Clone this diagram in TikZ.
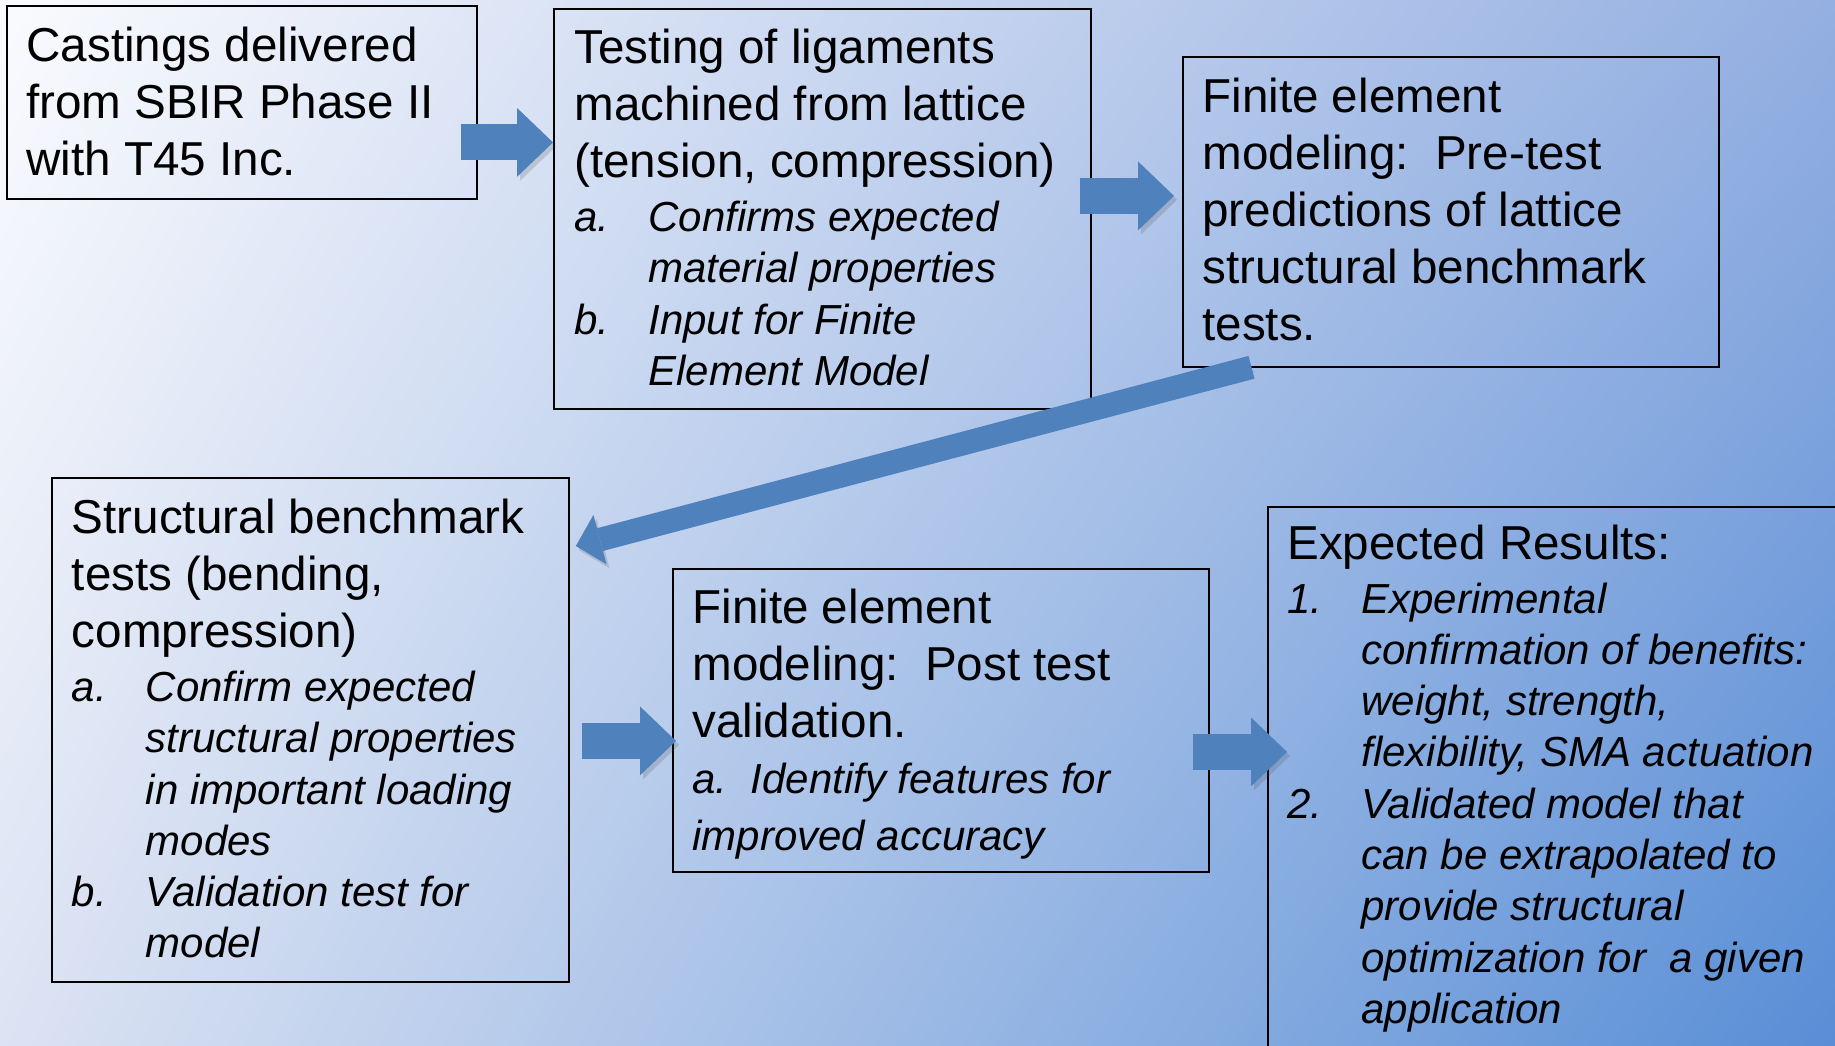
\documentclass[tikz,border=0pt]{standalone}
\usepackage{fontspec}
\setmainfont{Liberation Sans}
\usetikzlibrary{arrows.meta,shadings}
\frenchspacing
\definecolor{arrowblue}{RGB}{79,129,189}
\definecolor{bgTL}{RGB}{250,251,254}
\definecolor{bgTR}{RGB}{148,175,225}
\definecolor{bgBL}{RGB}{220,227,243}
\definecolor{bgBR}{RGB}{88,142,214}
\newcommand\rfs{\fontsize{23.8pt}{28.6pt}\selectfont}
\newcommand\ifs{\fontsize{21pt}{25.65pt}\selectfont\itshape}
\newcommand\Rl[1]{\hbox{\rfs #1}}
\newcommand\Il[1]{\hbox{\ifs #1}}
\newcommand\Ii[2]{\hbox{\ifs\hbox to 37pt{#1\hfil}#2}}
\newcommand\Bs[1]{\baselineskip=#1\relax\lineskiplimit=-30pt\relax}
\begin{document}
\begin{tikzpicture}[x=0.5pt,y=-0.5pt,
  box/.style={draw=black,line width=0.9pt,inner sep=0pt,anchor=north west},
  txt/.style={inner sep=0pt,anchor=base west,text=black},
  shadowed/.style={preaction={draw=black!70,opacity=0.2,transform canvas={shift={(1.5pt,-2pt)}}}},
  barrow/.style={shadowed,draw=arrowblue,line width=18pt,-{Triangle[length=18pt,width=34.5pt,line width=0pt]}},
  darrow/.style={shadowed,draw=arrowblue,line width=11.75pt,-{Triangle[length=12.5pt,width=25.5pt,line width=0pt]}}]
\useasboundingbox (0,0) rectangle (1835,1045);
\shade[upper left=bgTL,upper right=bgTR,lower left=bgBL,lower right=bgBR] (0,0) rectangle (1835,1045);

% boxes
\node[box,minimum width=235pt,minimum height=96.5pt] (b1) at (6,5) {};
\node[box,minimum width=268.5pt,minimum height=200pt] (b2) at (553,8) {};
\node[box,minimum width=268pt,minimum height=155pt] (b3) at (1182,56) {};
\node[box,minimum width=258.5pt,minimum height=252pt] (b4) at (51,477) {};
\node[box,minimum width=268pt,minimum height=151.5pt] (b5) at (672,568) {};
\node[box,minimum width=289pt,minimum height=277pt] (b6) at (1267,506) {};

% texts
\node[txt] (t1) at ([shift={(20,56)}]b1.north west) {\vtop{\Bs{28.6pt}%
  \Rl{Castings delivered}\Rl{from SBIR Phase II}\Rl{with T45 Inc.}}};
\node[txt] (t2) at ([shift={(21,55)}]b2.north west) {\vtop{\Bs{28.6pt}%
  \Rl{Testing of ligaments}\Rl{machined from lattice}\Rl{(tension, compression)}%
  \Bs{27pt}\Ii{a.}{Confirms expected}\Bs{25.65pt}\Ii{}{material properties}%
  \Ii{b.}{Input for Finite}\Ii{}{Element Model}}};
\node[txt] (t3) at ([shift={(20,56)}]b3.north west) {\vtop{\Bs{28.6pt}%
  \Rl{Finite element}\Rl{modeling:~~Pre-test}\Rl{predictions of lattice}%
  \Rl{structural benchmark}\Rl{tests.}}};
\node[txt] (t4) at ([shift={(20.5,56)}]b4.north west) {\vtop{\Bs{28.6pt}%
  \Rl{Structural benchmark}\Rl{tests (bending,}\Rl{compression)}%
  \Bs{27pt}\Ii{a.}{Confirm expected}\Bs{25.65pt}\Ii{}{structural properties}%
  \Ii{}{in important loading}\Ii{}{modes}\Ii{b.}{Validation test for}\Ii{}{model}}};
\node[txt] (t5) at ([shift={(20,55)}]b5.north west) {\vtop{\Bs{28.6pt}%
  \Rl{Finite element}\Rl{modeling:~~Post test}\Rl{validation.}%
  \Bs{28pt}\Il{a.~~Identify features for}\Bs{28.3pt}\Il{improved accuracy}}};
\node[txt] (t6) at ([shift={(20,53)}]b6.north west) {\vtop{\Bs{28.6pt}%
  \Rl{Expected Results:}%
  \Bs{27pt}\Ii{1.}{Experimental}\Bs{25.65pt}\Ii{}{confirmation of benefits:}%
  \Ii{}{weight, strength,}\Ii{}{flexibility, SMA actuation}%
  \Ii{2.}{Validated model that}\Ii{}{can be extrapolated to}\Ii{}{provide structural}%
  \Ii{}{optimization for~~a given}\Ii{}{application}}};

% connectors
\coordinate (a1s) at ([shift={(-17,40)}]b1.east);
\draw[barrow] (a1s) -- (a1s -| b2.west);
\coordinate (a2s) at ([shift={(-12,-13)}]b2.east);
\coordinate (a2e) at ([shift={(-8,0)}]b3.west);
\draw[barrow] (a2s) -- (a2s -| a2e);
\coordinate (a3s) at ([shift={(69.5,-0.5)}]b3.south west);
\coordinate (a3e) at ([shift={(6,69)}]b4.north east);
\draw[darrow] (a3s) -- (a3e);
\coordinate (a4s) at ([shift={(12,11)}]b4.east);
\coordinate (a4e) at ([shift={(4,0)}]b5.west);
\draw[barrow] (a4s) -- (a4s -| a4e);
\coordinate (a5s) at ([shift={(-17,31.5)}]b5.east);
\coordinate (a5e) at ([shift={(20,0)}]b6.west);
\draw[barrow] (a5s) -- (a5s -| a5e);
\end{tikzpicture}
\end{document}
